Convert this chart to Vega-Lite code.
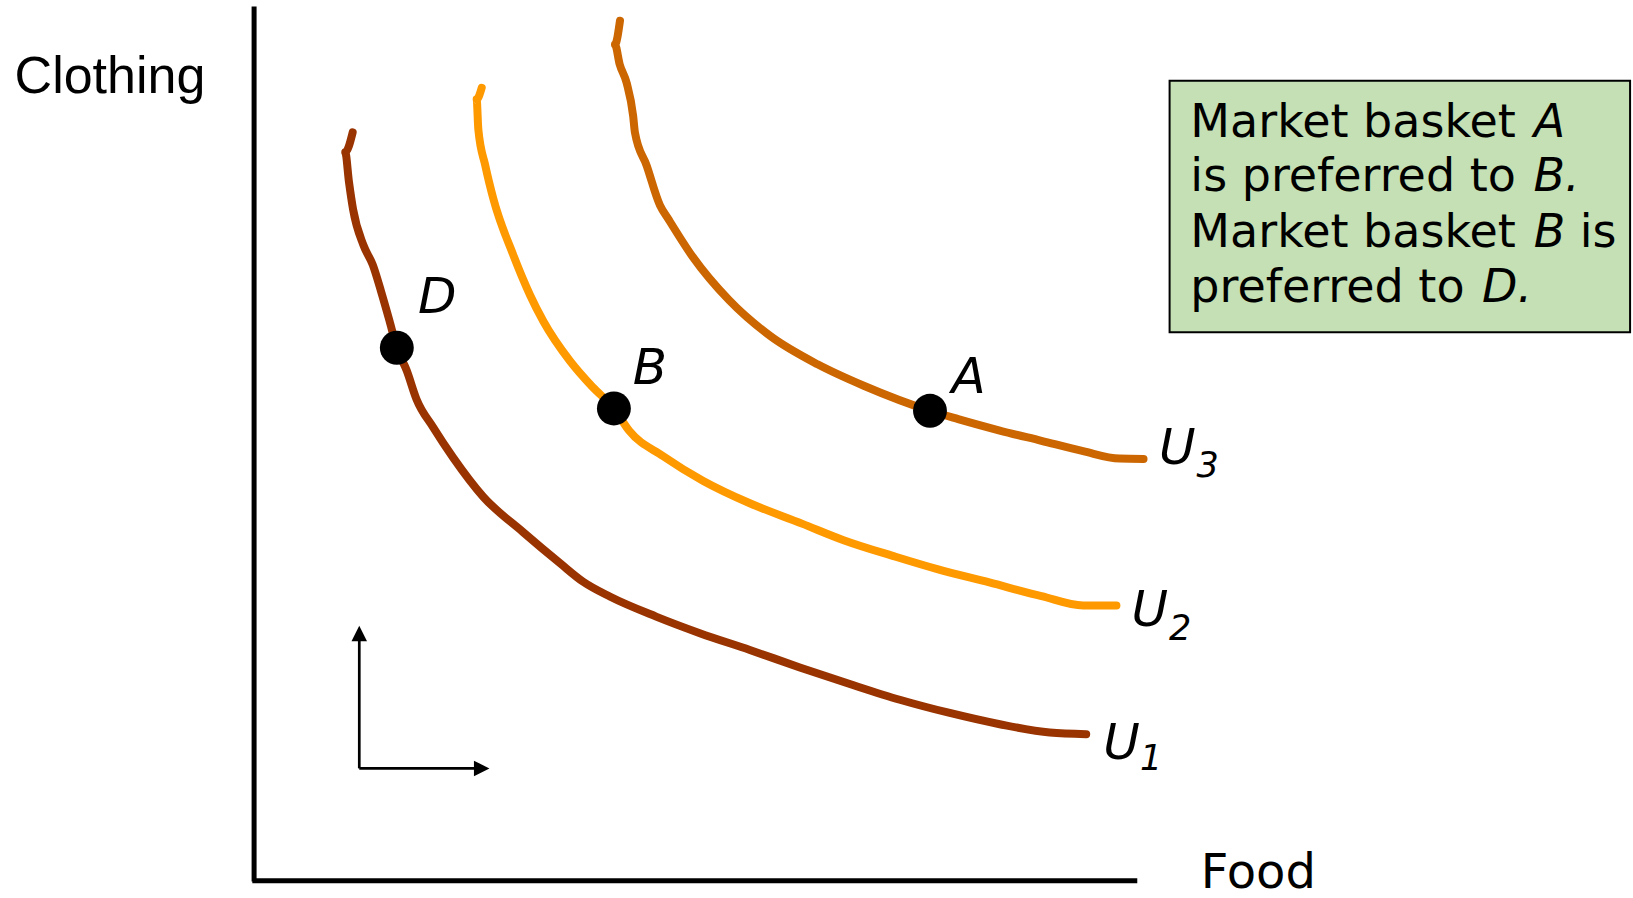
{
  "$schema": "https://vega.github.io/schema/vega-lite/v6.json",
  "width": 1633,
  "height": 898,
  "autosize": {"type": "fit", "contains": "padding"},
  "padding": 0,
  "background": "white",
  "config": {"view": {"stroke": null}},
  "datasets": {
    "axes": [
      {"food": 0, "clothing": -0.1, "food2": 0, "clothing2": 100.2},
      {"food": -0.2, "clothing": 0, "food2": 100, "clothing2": 0}
    ],
    "arrows": [
      {"food": 11.91, "clothing": 12.87, "food2": 11.91, "clothing2": 27.5},
      {"food": 11.91, "clothing": 12.87, "food2": 24.9, "clothing2": 12.87}
    ],
    "heads": [
      {"dir": "up", "food": 11.91, "clothing": 28.34},
      {"dir": "right", "food": 25.77, "clothing": 12.87}
    ],
    "curves": [
      {"curve": "U1", "i": 1, "food": 11.16, "clothing": 85.77},
      {"curve": "U1", "i": 2, "food": 10.32, "clothing": 83.51},
      {"curve": "U1", "i": 3, "food": 10.73, "clothing": 80.19},
      {"curve": "U1", "i": 4, "food": 11.2, "clothing": 76.99},
      {"curve": "U1", "i": 5, "food": 12.38, "clothing": 72.84},
      {"curve": "U1", "i": 6, "food": 13.44, "clothing": 70.58},
      {"curve": "U1", "i": 7, "food": 14.39, "clothing": 67.5},
      {"curve": "U1", "i": 8, "food": 15.33, "clothing": 64.18},
      {"curve": "U1", "i": 9, "food": 16.16, "clothing": 61.09},
      {"curve": "U1", "i": 10, "food": 17.28, "clothing": 58.48},
      {"curve": "U1", "i": 11, "food": 18.4, "clothing": 55.16},
      {"curve": "U1", "i": 12, "food": 20.28, "clothing": 51.96},
      {"curve": "U1", "i": 13, "food": 22.52, "clothing": 48.52},
      {"curve": "U1", "i": 14, "food": 25.94, "clothing": 44.01},
      {"curve": "U1", "i": 15, "food": 30.42, "clothing": 39.98},
      {"curve": "U1", "i": 16, "food": 34.67, "clothing": 36.36},
      {"curve": "U1", "i": 17, "food": 37.26, "clothing": 34.26},
      {"curve": "U1", "i": 18, "food": 40.33, "clothing": 32.54},
      {"curve": "U1", "i": 19, "food": 45.52, "clothing": 30.27},
      {"curve": "U1", "i": 20, "food": 50.47, "clothing": 28.37},
      {"curve": "U1", "i": 21, "food": 56.13, "clothing": 26.45},
      {"curve": "U1", "i": 22, "food": 61.79, "clothing": 24.44},
      {"curve": "U1", "i": 23, "food": 67.45, "clothing": 22.54},
      {"curve": "U1", "i": 24, "food": 73.11, "clothing": 20.74},
      {"curve": "U1", "i": 25, "food": 78.77, "clothing": 19.22},
      {"curve": "U1", "i": 26, "food": 84.43, "clothing": 17.93},
      {"curve": "U1", "i": 27, "food": 90.09, "clothing": 16.98},
      {"curve": "U1", "i": 28, "food": 94.22, "clothing": 16.79},
      {"curve": "U2", "i": 1, "food": 25.77, "clothing": 90.87},
      {"curve": "U2", "i": 2, "food": 25.2, "clothing": 89.56},
      {"curve": "U2", "i": 3, "food": 25.39, "clothing": 86.12},
      {"curve": "U2", "i": 4, "food": 26.18, "clothing": 81.97},
      {"curve": "U2", "i": 5, "food": 27.09, "clothing": 78.17},
      {"curve": "U2", "i": 6, "food": 29.35, "clothing": 71.71},
      {"curve": "U2", "i": 7, "food": 31.24, "clothing": 67.14},
      {"curve": "U2", "i": 8, "food": 32.75, "clothing": 64.13},
      {"curve": "U2", "i": 9, "food": 35.77, "clothing": 59.57},
      {"curve": "U2", "i": 10, "food": 38.33, "clothing": 56.58},
      {"curve": "U2", "i": 11, "food": 40.74, "clothing": 54.13},
      {"curve": "U2", "i": 12, "food": 42.45, "clothing": 51.6},
      {"curve": "U2", "i": 13, "food": 46.33, "clothing": 48.65},
      {"curve": "U2", "i": 14, "food": 50.86, "clothing": 45.82},
      {"curve": "U2", "i": 15, "food": 56.13, "clothing": 43.26},
      {"curve": "U2", "i": 16, "food": 62.03, "clothing": 40.93},
      {"curve": "U2", "i": 17, "food": 66.75, "clothing": 39.03},
      {"curve": "U2", "i": 18, "food": 72.64, "clothing": 37.13},
      {"curve": "U2", "i": 19, "food": 77.36, "clothing": 35.71},
      {"curve": "U2", "i": 20, "food": 83.25, "clothing": 34.18},
      {"curve": "U2", "i": 21, "food": 89.15, "clothing": 32.62},
      {"curve": "U2", "i": 22, "food": 93.87, "clothing": 31.55},
      {"curve": "U2", "i": 23, "food": 97.64, "clothing": 31.54},
      {"curve": "U3", "i": 1, "food": 41.43, "clothing": 98.58},
      {"curve": "U3", "i": 2, "food": 40.86, "clothing": 95.85},
      {"curve": "U3", "i": 3, "food": 41.39, "clothing": 93.59},
      {"curve": "U3", "i": 4, "food": 42.18, "clothing": 91.46},
      {"curve": "U3", "i": 5, "food": 42.92, "clothing": 87.66},
      {"curve": "U3", "i": 6, "food": 43.12, "clothing": 85.77},
      {"curve": "U3", "i": 7, "food": 44.45, "clothing": 81.97},
      {"curve": "U3", "i": 8, "food": 45.96, "clothing": 77.41},
      {"curve": "U3", "i": 9, "food": 46.93, "clothing": 75.8},
      {"curve": "U3", "i": 10, "food": 49.65, "clothing": 71.53},
      {"curve": "U3", "i": 11, "food": 53.77, "clothing": 66.55},
      {"curve": "U3", "i": 12, "food": 58.49, "clothing": 62.4},
      {"curve": "U3", "i": 13, "food": 63.8, "clothing": 59.19},
      {"curve": "U3", "i": 14, "food": 69.1, "clothing": 56.7},
      {"curve": "U3", "i": 15, "food": 76.53, "clothing": 53.86},
      {"curve": "U3", "i": 16, "food": 79.72, "clothing": 52.91},
      {"curve": "U3", "i": 17, "food": 84.43, "clothing": 51.6},
      {"curve": "U3", "i": 18, "food": 89.15, "clothing": 50.42},
      {"curve": "U3", "i": 19, "food": 93.87, "clothing": 49.23},
      {"curve": "U3", "i": 20, "food": 98.0, "clothing": 48.38},
      {"curve": "U3", "i": 21, "food": 100.71, "clothing": 48.34}
    ],
    "baskets": [
      {"basket": "D", "food": 16.16, "clothing": 61.09},
      {"basket": "B", "food": 40.74, "clothing": 54.13},
      {"basket": "A", "food": 76.53, "clothing": 53.86}
    ],
    "italicLabels": [
      {"label": "D", "food": 20.75, "clothing": 65.12},
      {"label": "B", "food": 44.81, "clothing": 56.94},
      {"label": "A", "food": 80.9, "clothing": 55.87},
      {"label": "U", "food": 104.54, "clothing": 47.81},
      {"label": "U", "food": 101.42, "clothing": 29.18},
      {"label": "U", "food": 98.23, "clothing": 14.0}
    ],
    "subscripts": [
      {"label": "3", "food": 107.97, "clothing": 46.26},
      {"label": "2", "food": 104.84, "clothing": 27.64},
      {"label": "1", "food": 101.56, "clothing": 12.69}
    ],
    "box": [
      {"food": 103.66, "clothing": 91.7, "food2": 155.8, "clothing2": 62.87}
    ],
    "boxText": [
      {"label": "Market basket", "food": 106.01, "clothing": 85.23},
      {"label": "is preferred to", "food": 106.01, "clothing": 79.0},
      {"label": "Market basket", "food": 106.01, "clothing": 72.6},
      {"label": "is", "food": 150.11, "clothing": 72.6},
      {"label": "preferred to", "food": 106.01, "clothing": 66.31}
    ],
    "boxItalic": [
      {"label": "A", "food": 144.88, "clothing": 85.23},
      {"label": "B.", "food": 144.85, "clothing": 79.0},
      {"label": "B", "food": 144.88, "clothing": 72.6},
      {"label": "D.", "food": 139.03, "clothing": 66.31}
    ],
    "yTitle": [{"label": "Clothing", "food": -27.12, "clothing": 90.27}],
    "xTitle": [{"label": "Food", "food": 107.19, "clothing": -0.83}]
  },
  "encoding": {
    "x": {"field": "food", "type": "quantitative", "scale": {"domain": [-28.77, 156.13], "nice": false, "zero": false}, "axis": null},
    "y": {"field": "clothing", "type": "quantitative", "scale": {"domain": [-1.3, 100.95], "nice": false, "zero": false}, "axis": null}
  },
  "layer": [
    {
      "data": {"name": "box"},
      "mark": {"type": "rect", "fill": "#C5E0B4", "stroke": "black", "strokeWidth": 2},
      "encoding": {"x2": {"field": "food2"}, "y2": {"field": "clothing2"}}
    },
    {
      "data": {"name": "axes"},
      "mark": {"type": "rule", "color": "black", "strokeWidth": 5},
      "encoding": {"x2": {"field": "food2"}, "y2": {"field": "clothing2"}}
    },
    {
      "data": {"name": "arrows"},
      "mark": {"type": "rule", "color": "black", "strokeWidth": 2.7},
      "encoding": {"x2": {"field": "food2"}, "y2": {"field": "clothing2"}}
    },
    {
      "data": {"name": "heads"},
      "mark": {"type": "point", "filled": true, "color": "black", "opacity": 1, "size": 240, "strokeWidth": 0},
      "encoding": {
        "shape": {"field": "dir", "type": "nominal", "scale": {"domain": ["up", "right"], "range": ["M0,-1L1,1L-1,1Z", "M-1,-1L1,0L-1,1Z"]}, "legend": null}
      }
    },
    {
      "data": {"name": "curves"},
      "mark": {"type": "line", "strokeWidth": 8, "strokeCap": "round", "strokeJoin": "round", "interpolate": "monotone"},
      "encoding": {
        "color": {"field": "curve", "type": "nominal", "scale": {"domain": ["U1", "U2", "U3"], "range": ["#993300", "#FF9900", "#CC6600"]}, "legend": null},
        "order": {"field": "i", "type": "quantitative"}
      }
    },
    {
      "data": {"name": "baskets"},
      "mark": {"type": "point", "filled": true, "color": "black", "opacity": 1, "size": 1150, "shape": "circle"}
    },
    {
      "data": {"name": "italicLabels"},
      "mark": {"type": "text", "font": "DejaVu Sans", "fontStyle": "oblique", "fontSize": 50, "align": "center", "baseline": "alphabetic", "color": "black"},
      "encoding": {"text": {"field": "label"}}
    },
    {
      "data": {"name": "subscripts"},
      "mark": {"type": "text", "font": "DejaVu Sans", "fontStyle": "oblique", "fontSize": 35, "align": "center", "baseline": "alphabetic", "color": "black"},
      "encoding": {"text": {"field": "label"}}
    },
    {
      "data": {"name": "boxText"},
      "mark": {"type": "text", "font": "DejaVu Sans", "fontSize": 46, "align": "left", "baseline": "alphabetic", "color": "black"},
      "encoding": {"text": {"field": "label"}}
    },
    {
      "data": {"name": "boxItalic"},
      "mark": {"type": "text", "font": "DejaVu Sans", "fontStyle": "oblique", "fontSize": 46, "align": "left", "baseline": "alphabetic", "color": "black"},
      "encoding": {"text": {"field": "label"}}
    },
    {
      "data": {"name": "yTitle"},
      "mark": {"type": "text", "font": "Liberation Sans", "fontSize": 52, "align": "left", "baseline": "alphabetic", "color": "black"},
      "encoding": {"text": {"field": "label"}}
    },
    {
      "data": {"name": "xTitle"},
      "mark": {"type": "text", "font": "DejaVu Sans", "fontSize": 48, "align": "left", "baseline": "alphabetic", "color": "black"},
      "encoding": {"text": {"field": "label"}}
    }
  ]
}
